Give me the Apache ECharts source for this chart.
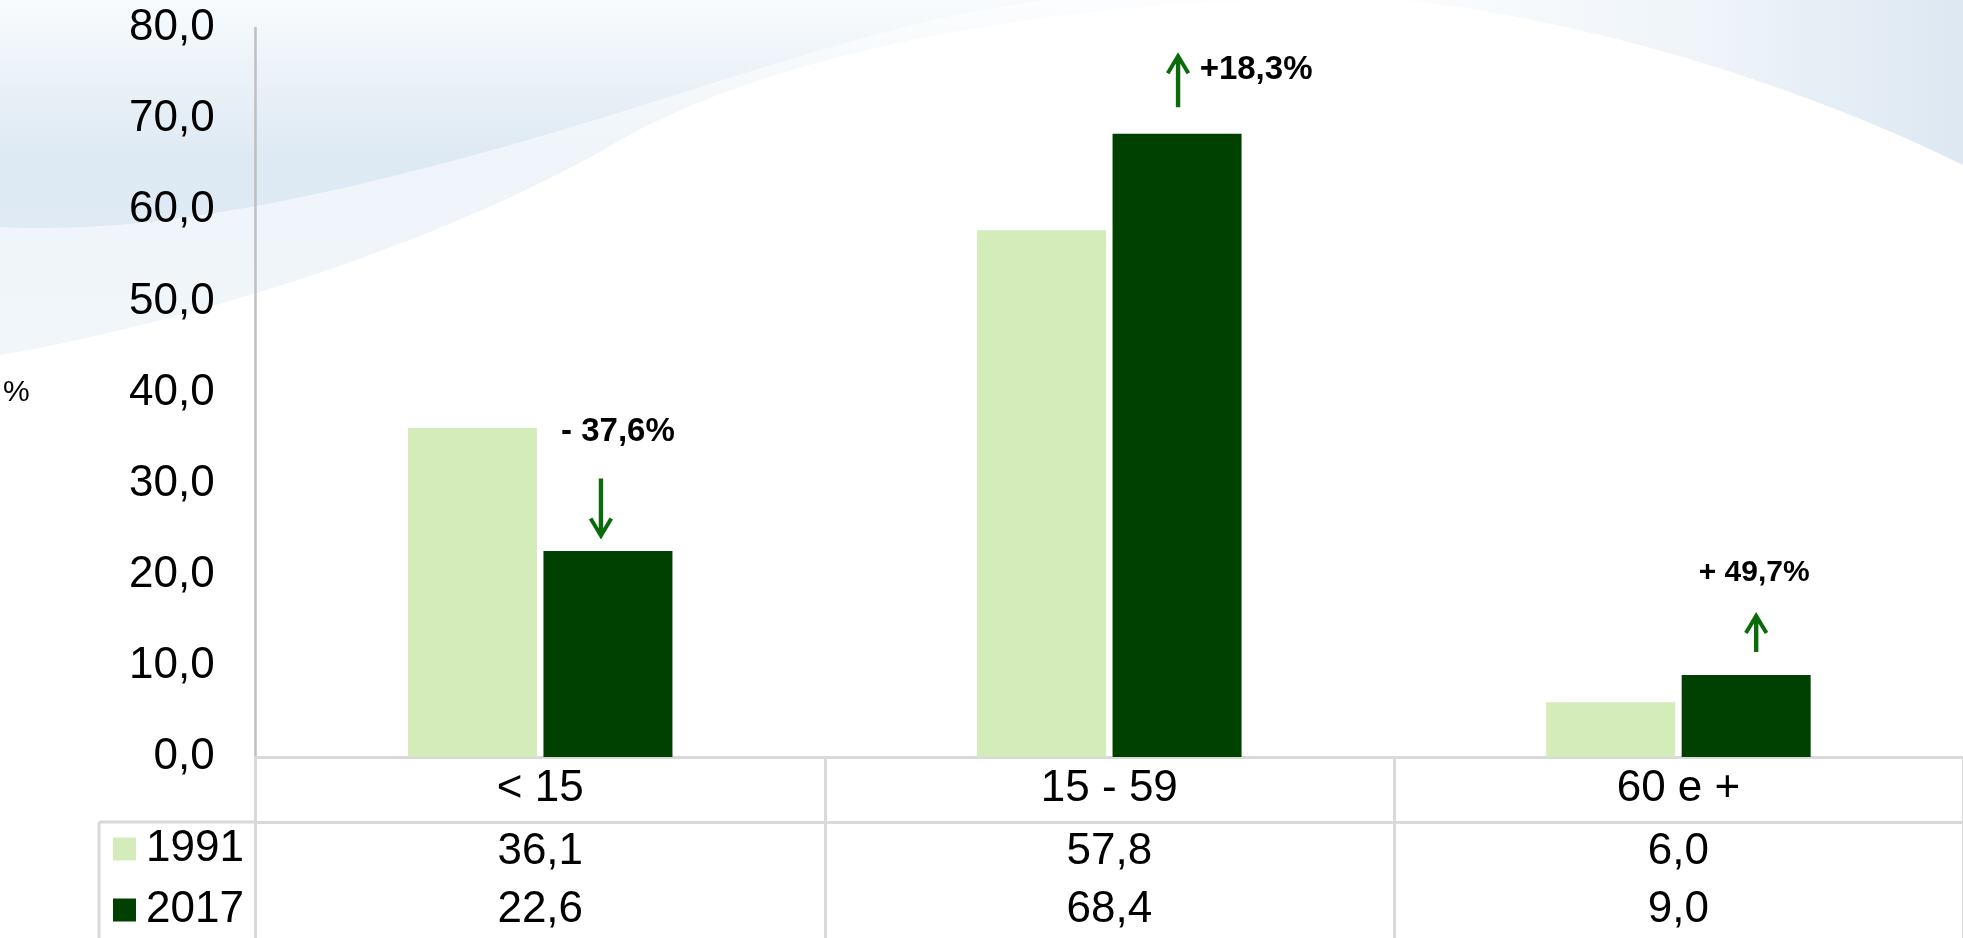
<!DOCTYPE html>
<html style="height: 100%">
<head>
  <meta charset="utf-8">
  <title>Popolazione per classi di età</title>
</head>
<body style="height: 100%; margin: 0; background: #fff">
<div id="container" style="width: 1963px; height: 938px"></div>
<script src="https://cdn.jsdelivr.net/npm/echarts@6/dist/echarts.min.js"></script>
<script type="text/javascript">
  // data
  var categories = ['< 15', '15 - 59', '60 e +'];
  var years = ['1991', '2017'];
  var values1991 = [36.1, 57.8, 6.0];
  var values2017 = [22.6, 68.4, 9.0];
  var changeLabels = ['- 37,6%', '+18,3%', '+ 49,7%'];
  var changeDir = ['down', 'up', 'up'];
  var yTicks = { min: 0, max: 80, interval: 10 };

  // layout of the arrows / labels around the top of the 2017 bars (px)
  var annot = [
    { arrowLen: 61, arrowOff: [-7, -42], textOff: [10, -119], fontSize: 33 },
    { arrowLen: 55, arrowOff: [1, -54], textOff: [79, -64], fontSize: 33 },
    { arrowLen: 40, arrowOff: [10, -43], textOff: [8, -102], fontSize: 30 }
  ];

  var LIGHT = '#d3ecb9';
  var DARK = '#004000';
  var ARROW = '#0a6b0a';
  var GRID_LINE = '#d9d9d9';
  var FONT = 'Liberation Sans';

  function fmt(v) {
    return v.toFixed(1).replace('.', ',');
  }

  // open-headed arrow, 24 px wide, L px long
  function arrowPath(L, up) {
    var pts = [[9.8, 0], [14.2, 0], [14.2, L - 11.4], [20.6, L - 22.1], [24, L - 20], [12, L],
      [0, L - 20], [3.4, L - 22.1], [9.8, L - 11.4]];
    return 'path://' + pts.map(function (p, i) {
      var y = up ? L - p[1] : p[1];
      return (i ? 'L' : 'M') + p[0] + ',' + y;
    }).join(' ') + ' Z';
  }

  function linear(x2, y2, stops) {
    return {
      type: 'linear', x: 0, y: 0, x2: x2, y2: y2,
      colorStops: stops.map(function (s) { return { offset: s[0], color: s[1] }; })
    };
  }

  // sample a chain of cubic beziers [p0, c1, c2, p1, c1, c2, p2 ...] into points
  function curve(pts) {
    var out = [pts[0]];
    for (var k = 0; k + 3 < pts.length; k += 3) {
      var a = pts[k], b = pts[k + 1], c = pts[k + 2], d = pts[k + 3];
      for (var s = 1; s <= 30; s++) {
        var t = s / 30, u = 1 - t;
        out.push([
          u * u * u * a[0] + 3 * u * u * t * b[0] + 3 * u * t * t * c[0] + t * t * t * d[0],
          u * u * u * a[1] + 3 * u * u * t * b[1] + 3 * u * t * t * c[1] + t * t * t * d[1]
        ]);
      }
    }
    return out;
  }

  var lowerCurve = curve([[1250, 0], [1000, 10], [760, 60], [620, 140], [450, 240], [200, 320], [0, 355]]);
  var upperCurve = curve([[0, 227], [150, 235], [350, 200], [700, 87], [850, 40], [950, 10], [1050, 0]]);
  var rightCurve = curve([[1406, 0], [1620, 25], [1820, 95], [1963, 165]]);

  var markData = [];
  categories.forEach(function (c, i) {
    var a = annot[i];
    markData.push({
      coord: [c, values2017[i]],
      symbol: arrowPath(a.arrowLen, changeDir[i] === 'up'),
      symbolSize: [24, a.arrowLen],
      symbolOffset: a.arrowOff,
      itemStyle: { color: ARROW },
      label: { show: false }
    });
    markData.push({
      coord: [c, values2017[i]],
      symbol: 'rect',
      symbolSize: 0,
      label: {
        show: true,
        position: 'inside',
        offset: a.textOff,
        formatter: changeLabels[i],
        fontSize: a.fontSize,
        fontWeight: 'bold',
        color: '#000'
      }
    });
  });

  var dom = document.getElementById('container');
  var myChart = echarts.init(dom);
  var option = {
    animation: false,
    textStyle: { fontFamily: FONT },
    graphic: [
      {
        type: 'polygon', z: -10, silent: true,
        shape: { points: [[0, 0]].concat(lowerCurve) },
        style: {
          fill: linear(0, 1, [[0, '#f8fbfd'], [0.45, '#dde9f3'], [1, '#e3edf6']])
        }
      },
      {
        type: 'polygon', z: -9, silent: true,
        shape: { points: upperCurve.concat(lowerCurve) },
        style: { fill: 'rgba(255,255,255,0.5)' }
      },
      {
        type: 'polygon', z: -10, silent: true,
        shape: { points: rightCurve.concat([[1963, 0]]) },
        style: {
          fill: linear(1, 0, [[0, 'rgba(240,245,250,0.3)'], [0.55, '#eef4f9'], [1, '#dde8f2']])
        }
      },
      {
        type: 'line', silent: true,
        shape: { x1: 99, y1: 822, x2: 255, y2: 822 },
        style: { stroke: GRID_LINE, lineWidth: 3 }
      },
      {
        type: 'line', silent: true,
        shape: { x1: 99, y1: 822, x2: 99, y2: 938 },
        style: { stroke: GRID_LINE, lineWidth: 3 }
      }
    ],
    legend: {
      data: years,
      orient: 'vertical',
      left: 113,
      top: 827,
      padding: 0,
      itemWidth: 23,
      itemHeight: 23,
      itemGap: 17,
      icon: 'rect',
      selectedMode: false,
      textStyle: { fontSize: 44, color: '#000', fontFamily: FONT, padding: [0, 0, 0, 5] }
    },
    grid: { left: 254, right: 0, top: 28, bottom: 181 },
    xAxis: [
      {
        type: 'category',
        data: categories,
        axisLine: { lineStyle: { color: GRID_LINE, width: 3 } },
        axisTick: { show: true, length: 181, lineStyle: { color: GRID_LINE, width: 3 } },
        axisLabel: { fontSize: 44, color: '#000', margin: 10 }
      },
      {
        type: 'category',
        position: 'bottom',
        offset: 65,
        data: values1991.map(fmt),
        axisLine: { lineStyle: { color: GRID_LINE, width: 3 } },
        axisTick: { show: false },
        axisLabel: { fontSize: 44, color: '#000', margin: 8 }
      },
      {
        type: 'category',
        position: 'bottom',
        offset: 123,
        data: values2017.map(fmt),
        axisLine: { show: false },
        axisTick: { show: false },
        axisLabel: { fontSize: 44, color: '#000', margin: 8 }
      }
    ],
    yAxis: {
      type: 'value',
      min: yTicks.min,
      max: yTicks.max,
      interval: yTicks.interval,
      name: '%',
      nameLocation: 'middle',
      nameRotate: 0,
      nameGap: 226,
      nameTextStyle: { fontSize: 30, color: '#000' },
      axisLine: { show: true, lineStyle: { color: '#bfbfbf', width: 2.5 } },
      axisTick: { show: false },
      splitLine: { show: false },
      axisLabel: {
        fontSize: 44,
        color: '#000',
        margin: 41,
        formatter: fmt
      }
    },
    series: [
      {
        name: years[0],
        type: 'bar',
        xAxisIndex: 0,
        data: values1991,
        barWidth: 129,
        barGap: '5%',
        itemStyle: { color: LIGHT }
      },
      {
        name: years[1],
        type: 'bar',
        xAxisIndex: 0,
        data: values2017,
        barWidth: 129,
        barGap: '5%',
        itemStyle: { color: DARK },
        markPoint: {
          silent: true,
          data: markData
        }
      }
    ]
  };

  myChart.setOption(option);
</script>
</body>
</html>
